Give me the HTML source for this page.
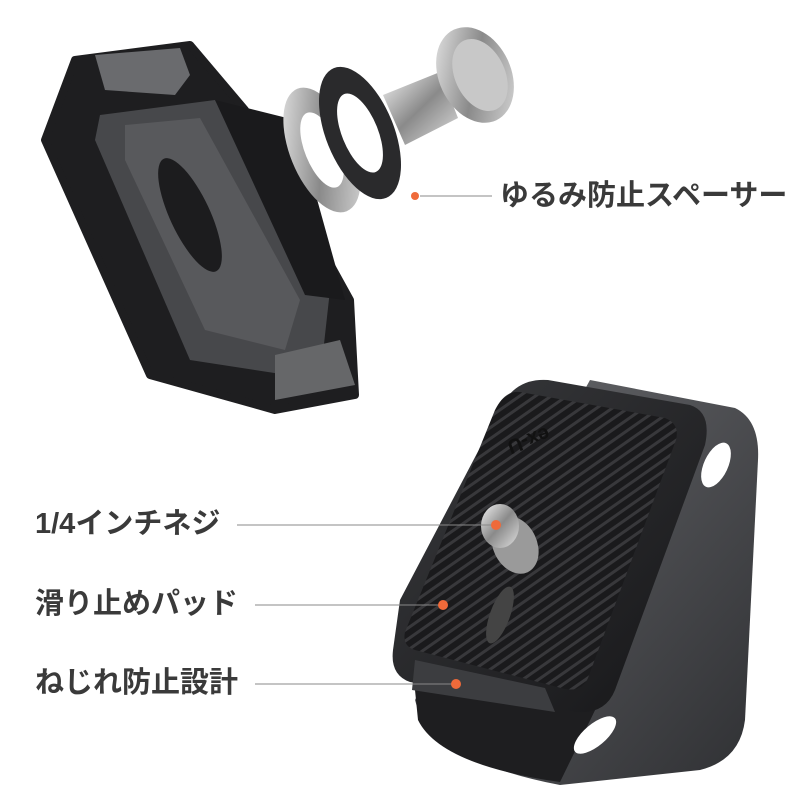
<!DOCTYPE html>
<html><head><meta charset="utf-8"><style>
html,body{margin:0;padding:0;background:#fff;width:800px;height:800px;overflow:hidden}
text{font-family:"Liberation Sans","Noto Sans CJK JP",sans-serif;fill:#3a3a3a;font-weight:bold}
</style></head><body>
<svg width="800" height="800" viewBox="0 0 800 800" xmlns="http://www.w3.org/2000/svg">
<defs>
<linearGradient id="dk" x1="0" y1="0" x2="1" y2="1"><stop offset="0" stop-color="#3a3b3e"/><stop offset="1" stop-color="#151517"/></linearGradient>
<linearGradient id="gr" x1="0" y1="0" x2="1" y2="1"><stop offset="0" stop-color="#6a6b6f"/><stop offset="1" stop-color="#2f3033"/></linearGradient>
<linearGradient id="mt" x1="0" y1="0" x2="1" y2="1"><stop offset="0" stop-color="#f2f2f2"/><stop offset=".5" stop-color="#8a8a8a"/><stop offset="1" stop-color="#e0e0e0"/></linearGradient>
<pattern id="rib" width="9" height="9" patternUnits="userSpaceOnUse" patternTransform="rotate(-35)"><rect width="9" height="9" fill="#1a1a1c"/><rect width="9" height="3" fill="#38383b"/></pattern>
</defs>
<!-- top clip -->
<polygon points="75,60 190,45 245,110 350,300 355,395 275,410 150,375 45,140" fill="#1e1e20" stroke="#1e1e20" stroke-width="8" stroke-linejoin="round"/>
<polygon points="100,115 215,100 330,290 320,380 190,360 95,140" fill="#47484b"/>
<polygon points="125,125 200,118 300,300 285,350 205,330 125,160" fill="#58595c"/>
<ellipse cx="190" cy="215" rx="20" ry="62" transform="rotate(-25 190 215)" fill="#1c1c1e"/>
<polygon points="215,100 295,120 345,300 305,295" fill="#1a1a1c"/>
<polygon points="95,55 180,48 190,75 175,95 105,90" fill="#6a6b6e"/>
<polygon points="275,355 340,340 355,385 275,400" fill="#666769"/>
<!-- washers -->
<ellipse cx="322" cy="150" rx="32" ry="66" transform="rotate(-22 322 150)" fill="url(#mt)"/>
<ellipse cx="322" cy="150" rx="17" ry="40" transform="rotate(-22 322 150)" fill="#fff"/>
<ellipse cx="360" cy="133" rx="34" ry="70" transform="rotate(-22 360 133)" fill="#2a2a2c"/>
<ellipse cx="360" cy="133" rx="18" ry="42" transform="rotate(-22 360 133)" fill="#fff"/>
<!-- screw -->
<polygon points="383,95 440,72 458,118 405,145" fill="url(#mt)"/>
<ellipse cx="475" cy="75" rx="36" ry="50" transform="rotate(-25 475 75)" fill="url(#mt)"/>
<ellipse cx="480" cy="75" rx="25" ry="38" transform="rotate(-25 480 75)" fill="#c8c8c8"/>
<!-- bottom plate -->
<path d="M590,380 L735,408 Q760,420 758,460 L745,720 Q740,760 700,770 L560,785 Q430,760 415,700 L420,690 Z" fill="url(#gr)"/>
<path d="M415,690 L600,700 L560,782 Q440,765 418,720 Z" fill="#1e1e20"/>
<ellipse cx="716" cy="465" rx="12" ry="24" transform="rotate(25 716 465)" fill="#fff"/>
<ellipse cx="595" cy="735" rx="26" ry="11" transform="rotate(-40 595 735)" fill="#fff"/>
<path d="M548,380 L690,405 Q712,412 705,445 L615,690 Q605,715 575,712 L410,682 Q390,675 393,650 L400,600 L505,400 Q520,378 548,380 Z" fill="url(#dk)"/>
<path d="M520,392 L665,418 Q680,424 676,440 L588,678 Q582,692 565,689 L415,650 Q402,646 405,632 L495,410 Q505,390 520,392 Z" fill="url(#rib)"/>
<text x="500" y="445" font-size="20" fill="#111" transform="rotate(160 525 440)" style="fill:#111">ex-U</text>
<path d="M415,660 L545,688 L555,712 L412,690 Z" fill="#3c3d40"/>
<ellipse cx="500" cy="615" rx="10" ry="30" transform="rotate(20 500 615)" fill="#444"/>
<ellipse cx="515" cy="545" rx="22" ry="30" transform="rotate(-25 515 545)" fill="#9a9a9a"/>
<ellipse cx="500" cy="526" rx="19" ry="22" fill="url(#mt)"/>
<!-- labels -->
<line x1="420" y1="196" x2="492" y2="196" stroke="#888" stroke-width="1"/>
<circle cx="415" cy="196" r="4" fill="#ef6a3a"/>
<text x="500" y="205" font-size="29">ゆるみ防止スペーサー</text>
<line x1="237" y1="525" x2="492" y2="525" stroke="#888" stroke-width="1"/>
<circle cx="496" cy="525" r="5" fill="#ef6a3a"/>
<text x="35" y="533" font-size="29">1/4インチネジ</text>
<line x1="255" y1="605" x2="440" y2="605" stroke="#888" stroke-width="1"/>
<circle cx="443" cy="605" r="5" fill="#ef6a3a"/>
<text x="35" y="613" font-size="29">滑り止めパッド</text>
<line x1="255" y1="684" x2="455" y2="684" stroke="#888" stroke-width="1"/>
<circle cx="456" cy="684" r="5" fill="#ef6a3a"/>
<text x="35" y="692" font-size="29">ねじれ防止設計</text>
</svg>
</body></html>
